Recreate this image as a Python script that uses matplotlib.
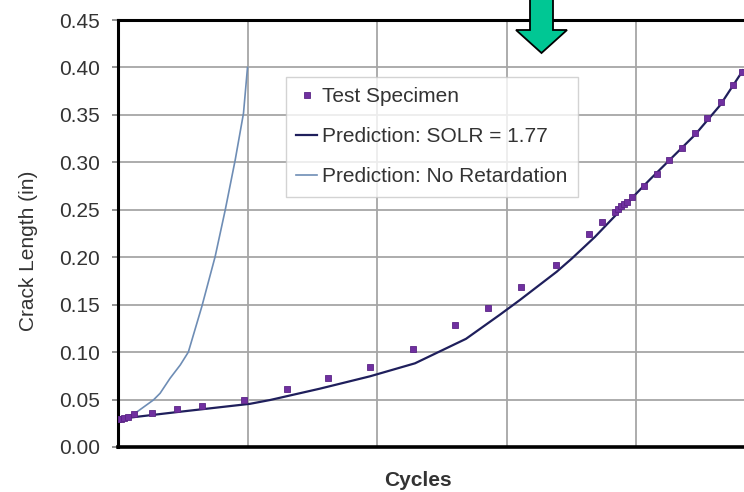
import matplotlib
matplotlib.use("Agg")
import matplotlib.pyplot as plt
from matplotlib.patches import Polygon

# ---------------- data ----------------
specimen_cycles = [0, 230, 460, 770, 1240, 2650, 4580, 6510, 9730, 13030, 16240,
                   19460, 22760, 26020, 28600, 31120, 33820, 36350, 37350, 38380,
                   38610, 38840, 39070, 39310, 39670, 40620, 41600, 42570, 43530,
                   44560, 45510, 46540, 47520, 48170]
specimen_crack = [0.029, 0.0295, 0.0306, 0.0316, 0.0345, 0.0361, 0.040, 0.0432,
                  0.0495, 0.0608, 0.0724, 0.0843, 0.1036, 0.1286, 0.1462, 0.169,
                  0.1918, 0.2245, 0.2371, 0.2474, 0.2508, 0.2535, 0.2561, 0.2587,
                  0.2638, 0.2751, 0.2877, 0.3025, 0.3148, 0.3306, 0.3464, 0.3639,
                  0.3815, 0.3955]

solr_cycles = [0, 4556, 10193, 11737, 15598, 19459, 22934, 26873, 29498, 31042,
               33876, 35035, 36834, 38378, 39537, 41081, 44556, 46486, 48263]
solr_crack = [0.0295, 0.0368, 0.0455, 0.0495, 0.0615, 0.0745, 0.0882, 0.114,
              0.1395, 0.155, 0.1847, 0.1985, 0.2215, 0.2435, 0.2603, 0.282,
              0.329, 0.360, 0.397]

noret_cycles = [0, 1310, 2730, 3250, 4020, 4810, 5430, 6470, 7500, 8280, 9050,
                9690, 10000]
noret_crack = [0.0295, 0.0355, 0.0495, 0.0566, 0.0724, 0.0865, 0.1000, 0.1479,
               0.2006, 0.2498, 0.3025, 0.3517, 0.400]

y_ticks = [0.00, 0.05, 0.10, 0.15, 0.20, 0.25, 0.30, 0.35, 0.40, 0.45]
x_grid = [10000, 20000, 30000, 40000]

labels = ["Test Specimen", "Prediction: SOLR = 1.77", "Prediction: No Retardation"]

# ---------------- figure ----------------
W, H = 744, 492
plt.rcParams['font.family'] = ['Liberation Sans', 'DejaVu Sans']
fig = plt.figure(figsize=(W / 100, H / 100), dpi=100)
ax = fig.add_axes([118 / W, (H - 447) / H, (W - 118) / W, (447 - 20) / H])

text_color = "#333333"
fs = 15.0

ax.plot(specimen_cycles, specimen_crack, linestyle="none", marker="s",
        markersize=4.6, color="#7030a0", markeredgecolor="#5a2585",
        markeredgewidth=0.6, label=labels[0], zorder=4)
ax.plot(solr_cycles, solr_crack, color="#1f1f5c", linewidth=1.6,
        label=labels[1], zorder=3)
ax.plot(noret_cycles, noret_crack, color="#6e8db5", linewidth=1.2,
        label=labels[2], zorder=3)

ax.set_ylim(0, 0.45)
ax.set_xlim(0, (W - 118) / 129.5 * 10000)
ax.set_yticks(y_ticks)
ax.set_yticklabels([f"{v:.2f}" for v in y_ticks])
ax.set_xticks(x_grid)
ax.tick_params(axis="x", length=0, labelbottom=False)
ax.tick_params(axis="y", direction="out", length=4, width=1.2, color="#808080",
               pad=9, labelsize=fs, labelcolor=text_color)

ax.grid(True, color="#a6a6a6", linewidth=1.3)
ax.set_axisbelow(True)

for side in ["left", "top", "bottom"]:
    ax.spines[side].set_color("black")
ax.spines["left"].set_linewidth(2.2)
ax.spines["top"].set_linewidth(2.2)
ax.spines["bottom"].set_linewidth(2.6)
ax.spines["right"].set_visible(False)

fig.text(29 / W, 1 - 251 / H, "Crack Length (in)", rotation=90, ha="center",
         va="center", fontsize=fs, color=text_color)
fig.text(418 / W, 1 - 480 / H, "Cycles", ha="center", va="center",
         fontsize=fs, fontweight="bold", color=text_color)

leg = ax.legend(loc="upper left", bbox_to_anchor=(286 / W, 1 - 77 / H),
                bbox_transform=fig.transFigure, borderaxespad=0,
                fontsize=fs, frameon=True, fancybox=False,
                handlelength=1.0, handletextpad=0.25, borderpad=0.5,
                labelspacing=1.0, markerscale=1.0)
leg.get_frame().set_edgecolor("#c8c8c8")
leg.get_frame().set_linewidth(1.0)
for t in leg.get_texts():
    t.set_color(text_color)

# green arrow (annotation) in pixel coordinates
arrow_px = [(530, -5), (553, -5), (553, 30), (567, 30), (541.5, 53), (516, 30), (530, 30)]
arrow = Polygon([(x / W, 1 - y / H) for x, y in arrow_px], closed=True,
                transform=fig.transFigure, facecolor="#00c794",
                edgecolor="black", linewidth=1.3, zorder=10)
fig.patches.append(arrow)

fig.savefig("out.png", dpi=100)
